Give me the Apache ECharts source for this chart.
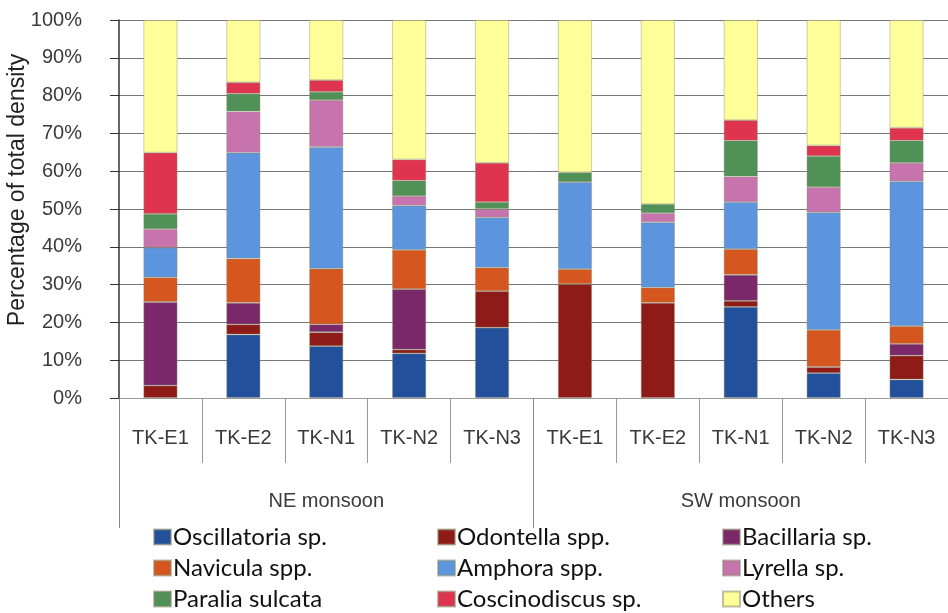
<!DOCTYPE html>
<html>
<head>
<meta charset="utf-8">
<script src="https://cdn.jsdelivr.net/npm/echarts@6/dist/echarts.min.js"></script>
<style>
html,body{margin:0;padding:0;background:#fff;}
#chart{width:948px;height:613px;}
</style>
</head>
<body>
<div id="chart"></div>
<script>
var categories = ['TK-E1','TK-E2','TK-N1','TK-N2','TK-N3','TK-E1','TK-E2','TK-N1','TK-N2','TK-N3'];
var groups = ['NE monsoon','SW monsoon'];
var yTicks = [0,10,20,30,40,50,60,70,80,90,100];

var oscillatoria  = [0, 16.8, 13.7, 11.8, 18.6, 0, 0, 24.1, 6.6, 4.9];
var odontella     = [3.3, 2.7, 3.7, 1.0, 9.7, 30.1, 25.2, 1.6, 1.6, 6.3];
var bacillaria    = [22.1, 5.7, 2.1, 16.0, 0, 0, 0, 6.9, 0, 3.1];
var navicula      = [6.5, 11.7, 14.7, 10.4, 6.2, 4.0, 4.0, 6.8, 9.8, 4.7];
var amphora       = [7.9, 28.0, 32.2, 11.7, 13.3, 23.0, 17.3, 12.4, 31.1, 38.3];
var lyrella       = [4.9, 10.9, 12.4, 2.5, 2.2, 0, 2.4, 6.8, 6.7, 4.9];
var paralia       = [4.0, 4.7, 2.2, 4.1, 1.8, 2.6, 2.4, 9.5, 8.2, 5.9];
var coscinodiscus = [16.2, 3.0, 3.1, 5.6, 10.4, 0, 0, 5.4, 2.8, 3.4];
var others        = [35.1, 16.5, 15.9, 36.9, 37.8, 40.3, 48.7, 26.5, 33.2, 28.5];

var seriesNames = ['Oscillatoria sp.','Odontella spp.','Bacillaria sp.','Navicula spp.','Amphora spp.','Lyrella sp.','Paralia sulcata','Coscinodiscus sp.','Others'];
var seriesValues = [oscillatoria, odontella, bacillaria, navicula, amphora, lyrella, paralia, coscinodiscus, others];
var seriesColors = ['#22509A','#8E1B17','#7A2869','#D5561F','#5C94DD','#C774AE','#4F9157','#DE3450','#FFFF99'];

var chart = echarts.init(document.getElementById('chart'), null, {renderer:'canvas'});

var series = seriesNames.map(function(n, i){
  return {
    name: n,
    type: 'bar',
    stack: 'total',
    xAxisIndex: 0,
    barWidth: 34,
    itemStyle: {color: seriesColors[i], borderColor: 'rgba(140,140,110,0.55)', borderWidth: 0.8},
    data: seriesValues[i].map(function(v){ return v === 0 ? '-' : v; })
  };
});

function legendFor(names, left){
  return {
    orient: 'vertical',
    left: left,
    top: 525,
    height: 120,
    padding: 0,
    itemWidth: 17,
    itemHeight: 15,
    itemGap: 7,
    icon: 'rect',
    data: names,
    textStyle: {fontFamily: 'Lato', fontSize: 24, lineHeight: 24, color: '#111', padding: [0,0,0,-3]},
    selectedMode: false
  };
}

var option = {
  animation: false,
  backgroundColor: '#fff',
  grid: {left: 119, right: 0, top: 20, bottom: 215, containLabel: false},
  legend: [
    legendFor([seriesNames[0], seriesNames[3], seriesNames[6]], 153),
    legendFor([seriesNames[1], seriesNames[4], seriesNames[7]], 437),
    legendFor([seriesNames[2], seriesNames[5], seriesNames[8]], 722)
  ],
  xAxis: [
    {
      type: 'category',
      data: categories,
      position: 'bottom',
      boundaryGap: true,
      axisLine: {show: true, lineStyle: {color: '#9a9a9a', width: 1}},
      axisTick: {show: true, interval: 0, length: 65, lineStyle: {color: '#9a9a9a'}},
      axisLabel: {interval: 0, margin: 30, fontFamily: 'Liberation Sans', fontSize: 20, color: '#3a3a3a'},
      splitLine: {show: false}
    },
    {
      type: 'category',
      data: groups,
      position: 'bottom',
      boundaryGap: true,
      axisLine: {show: false},
      axisTick: {show: true, interval: 0, length: 130, lineStyle: {color: '#888'}},
      axisLabel: {interval: 0, margin: 93, fontFamily: 'Liberation Sans', fontSize: 20, color: '#3a3a3a'},
      splitLine: {show: false}
    }
  ],
  yAxis: {
    type: 'value',
    min: 0,
    max: 100,
    interval: 10,
    axisLine: {show: true, lineStyle: {color: '#333', width: 1.5}},
    axisTick: {show: true, length: 9, lineStyle: {color: '#333'}},
    axisLabel: {formatter: '{value}%', margin: 37, fontFamily: 'Liberation Sans', fontSize: 20, color: '#3a3a3a'},
    splitLine: {show: true, lineStyle: {color: '#777', width: 1}}
  },
  graphic: [{
    type: 'text',
    x: 18,
    y: 190,
    rotation: Math.PI / 2,
    style: {
      text: 'Percentage of total density',
      fontFamily: 'Liberation Sans',
      fontSize: 23,
      fill: '#222',
      textAlign: 'center',
      textVerticalAlign: 'middle'
    }
  }],
  series: series
};
chart.setOption(option);
</script>
</body>
</html>
